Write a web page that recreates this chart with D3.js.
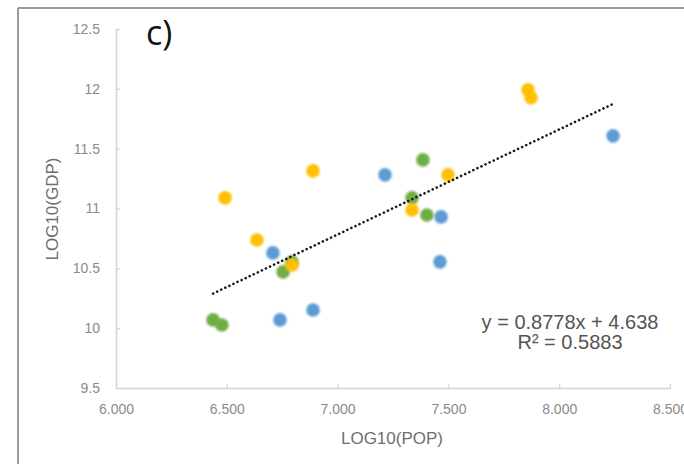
<!DOCTYPE html>
<html>
<head>
<meta charset="utf-8">
<script src="https://cdn.jsdelivr.net/npm/d3@7/dist/d3.min.js"></script>
<style>
html,body{margin:0;padding:0;background:#fff;}
svg{display:block;}
text{font-family:"Liberation Sans",Arial,sans-serif;}
</style>
</head>
<body>
<script>
// Data (log10 population, log10 GDP), three groups
const blueX   = [8.243, 7.214, 6.708, 7.467, 7.462, 6.740, 6.889];
const blueY   = [11.607, 11.281, 10.629, 10.930, 10.554, 10.069, 10.152];
const yellowX = [7.859, 7.873, 7.498, 7.336, 6.636, 6.794, 6.492, 6.889];
const yellowY = [11.992, 11.925, 11.281, 10.988, 10.737, 10.528, 11.089, 11.314];
const greenX  = [7.385, 7.336, 7.403, 6.794, 6.754, 6.438, 6.478];
const greenY  = [11.406, 11.089, 10.946, 10.553, 10.470, 10.069, 10.027];
const xTicks = [6.0, 6.5, 7.0, 7.5, 8.0, 8.5];
const yTicks = [9.5, 10, 10.5, 11, 11.5, 12, 12.5];
const slope = 0.8778, intercept = 4.638;
const eqText = "y = 0.8778x + 4.638";
const r2Text = "R² = 0.5883";
const panelLabel = "c)";
const xTitle = "LOG10(POP)";
const yTitle = "LOG10(GDP)";

const W = 684, H = 464;
const svg = d3.select("body").append("svg").attr("width", W).attr("height", H);

const x = d3.scaleLinear().domain([6.0, 8.5]).range([116, 670]);
const y = d3.scaleLinear().domain([9.5, 12.5]).range([388, 29]);

// frame lines
svg.append("line").attr("x1", 18).attr("x2", W).attr("y1", 8).attr("y2", 8)
  .attr("stroke", "#9a9a9a").attr("stroke-width", 2);
svg.append("line").attr("x1", 18).attr("x2", 18).attr("y1", 8).attr("y2", H)
  .attr("stroke", "#9a9a9a").attr("stroke-width", 2);

// axes
const axisColor = "#d4d4d4";
const gx = svg.append("g").attr("transform", `translate(0,${y(9.5)})`)
  .call(d3.axisBottom(x).tickValues(xTicks).tickFormat(d3.format(".3f")).tickSizeInner(-4).tickSizeOuter(0).tickPadding(16));
const gy = svg.append("g").attr("transform", `translate(${x(6.0)},0)`)
  .call(d3.axisLeft(y).tickValues(yTicks).tickFormat(d => String(d)).tickSizeInner(-4).tickSizeOuter(0).tickPadding(16));
[gx, gy].forEach(g => {
  g.select(".domain").attr("stroke", axisColor).attr("stroke-width", 1.5);
  g.selectAll(".tick line").attr("stroke", axisColor).attr("stroke-width", 1.2);
  g.selectAll(".tick text").attr("fill", "#8a8a8a").style("font-size", "14px")
    .style("font-family", "'Liberation Sans',Arial,sans-serif");
});
gy.selectAll(".tick text").attr("x", -16);

// axis titles
svg.append("text").attr("x", 392).attr("y", 444).attr("text-anchor", "middle")
  .attr("fill", "#6e6e6e").style("font-size", "17px").text(xTitle);
svg.append("text").attr("transform", "translate(58,209) rotate(-90)").attr("text-anchor", "middle")
  .attr("fill", "#6e6e6e").style("font-size", "17px").text(yTitle);

// panel label
svg.append("text").attr("x", 146).attr("y", 45).attr("fill", "#111")
  .style("font-size", "34px").style("font-family", "'Open Sans','DejaVu Sans',sans-serif").text(panelLabel);

// points
const defs = svg.append("defs");
defs.append("filter").attr("id", "soft").attr("x", "-50%").attr("y", "-50%").attr("width", "200%").attr("height", "200%")
  .append("feGaussianBlur").attr("stdDeviation", 0.8);

const series = [
  {xs: blueX, ys: blueY, color: "#5b9bd5"},
  {xs: greenX, ys: greenY, color: "#70ad47"},
  {xs: yellowX, ys: yellowY, color: "#ffc000"}
];
series.forEach(s => {
  const pts = s.xs.map((v, i) => [v, s.ys[i]]);
  svg.append("g").attr("filter", "url(#soft)").selectAll("circle").data(pts).join("circle")
    .attr("cx", d => x(d[0])).attr("cy", d => y(d[1])).attr("r", 6.8).attr("fill", s.color);
});

// trendline
const allX = blueX.concat(yellowX, greenX);
const x0 = d3.min(allX), x1 = d3.max(allX);
svg.append("line")
  .attr("x1", x(x0)).attr("y1", y(slope * x0 + intercept))
  .attr("x2", x(x1)).attr("y2", y(slope * x1 + intercept))
  .attr("stroke", "#1a1a1a").attr("stroke-width", 2.6)
  .attr("stroke-linecap", "round").attr("stroke-dasharray", "0.1 4.4");

// equation
svg.append("text").attr("x", 570).attr("y", 329).attr("text-anchor", "middle")
  .attr("fill", "#555").style("font-size", "20px").text(eqText);
svg.append("text").attr("x", 570).attr("y", 349).attr("text-anchor", "middle")
  .attr("fill", "#555").style("font-size", "20px").text(r2Text);
</script>
</body>
</html>
